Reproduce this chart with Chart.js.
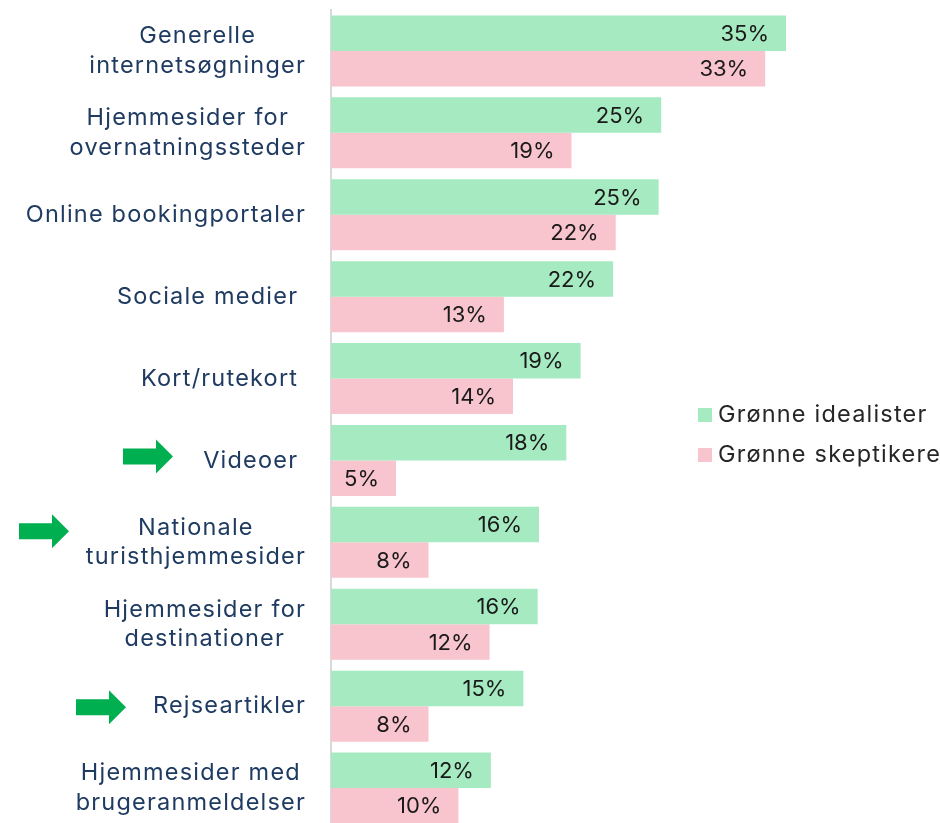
<!DOCTYPE html>
<html>
<head>
<meta charset="utf-8">
<script src="https://cdn.jsdelivr.net/npm/chart.js@4"></script>
<style>
  html, body { margin: 0; padding: 0; background: #fff; overflow: hidden; }
  #wrap { width: 940px; height: 829px; position: relative; }
</style>
</head>
<body>
<div id="wrap"><canvas id="sources_chart"></canvas></div>
<script>
// categories (multi-line ones as arrays, trailing spaces kept as in the source)
const categories = [
  ['Generelle', 'internetsøgninger'],
  ['Hjemmesider for', 'overnatningssteder'],
  'Online bookingportaler',
  'Sociale medier ',
  'Kort/rutekort ',
  'Videoer ',
  ['Nationale', 'turisthjemmesider'],
  ['Hjemmesider for', 'destinationer'],
  'Rejseartikler',
  ['Hjemmesider med', 'brugeranmeldelser']
];

const seriesNames = ['Grønne idealister', 'Grønne skeptikere'];

// percent
const idealister = [35.0, 25.4, 25.2, 21.7, 19.2, 18.1, 16.0, 15.9, 14.8, 12.3];
const skeptikere = [33.4, 18.5, 21.9, 13.3, 14.0, 5.0, 7.5, 12.2, 7.5, 9.8];

// categories marked with a green arrow
const highlighted = ['Videoer ', 'Nationale', 'Rejseartikler'];

const FONT = "'Inter', 'Noto Sans', sans-serif";
const LABEL_RIGHT = 306;
const LINE_H = 29.5;

//category labels: right aligned block, lines centered in it
const categoryLabels = {
  id: 'categoryLabels',
  afterDraw(chart) {
    const ctx = chart.ctx;
    const y = chart.scales.y;
    ctx.save();
    ctx.font = '23.5px ' + FONT;
    ctx.letterSpacing = '1.2px';
    ctx.fillStyle = '#1f3b61';
    ctx.textAlign = 'center';
    ctx.textBaseline = 'middle';
    chart.data.labels.forEach((lbl, i) => {
      const lines = Array.isArray(lbl) ? lbl : [lbl];
      const w = Math.max(...lines.map(l => ctx.measureText(l).width));
      const cx = LABEL_RIGHT - w / 2;
      const cy = y.getPixelForValue(i);
      lines.forEach((l, j) => {
        ctx.fillText(l, cx, cy + (j - (lines.length - 1) / 2) * LINE_H);
      });
    });
    ctx.restore();
  }
};

//green arrows in front of some categories
const arrows = {
  id: 'arrows',
  afterDraw(chart, args, opts) {
    const ctx = chart.ctx;
    const y = chart.scales.y;
    ctx.save();
    ctx.fillStyle = '#00b050';
    chart.data.labels.forEach((lbl, i) => {
      const first = Array.isArray(lbl) ? lbl[0] : lbl;
      const k = highlighted.indexOf(first);
      if (k < 0) return;
      const right = opts.right[k];
      const cy = y.getPixelForValue(i) + opts.dy[k];
      const left = right - 50;
      const head = right - 17;
      ctx.beginPath();
      ctx.moveTo(left, cy - 8);
      ctx.lineTo(head, cy - 8);
      ctx.lineTo(head, cy - 17);
      ctx.lineTo(right, cy);
      ctx.lineTo(head, cy + 17);
      ctx.lineTo(head, cy + 8);
      ctx.lineTo(left, cy + 8);
      ctx.closePath();
      ctx.fill();
    });
    ctx.restore();
  }
};

//value labels inside the bar ends
const valueLabels = {
  id: 'valueLabels',
  afterDatasetsDraw(chart) {
    const ctx = chart.ctx;
    ctx.save();
    ctx.font = '22px ' + FONT;
    ctx.fillStyle = '#1a1a1a';
    ctx.textAlign = 'right';
    ctx.textBaseline = 'middle';
    chart.data.datasets.forEach((ds, d) => {
      chart.getDatasetMeta(d).data.forEach((bar, i) => {
        ctx.fillText(Math.round(ds.data[i]) + '%', bar.x - 17, bar.y + 1);
      });
    });
    ctx.restore();
  }
};

//legend inside the plot, on the right
const sideLegend = {
  id: 'sideLegend',
  afterDraw(chart) {
    const ctx = chart.ctx;
    ctx.save();
    ctx.font = '23.5px ' + FONT;
    ctx.letterSpacing = '1.2px';
    ctx.textAlign = 'left';
    ctx.textBaseline = 'middle';
    chart.data.datasets.forEach((ds, d) => {
      const cy = 415 + d * 40;
      ctx.fillStyle = ds.backgroundColor;
      ctx.fillRect(698, cy - 7, 14, 14);
      ctx.fillStyle = '#262626';
      ctx.fillText(ds.label, 718, cy);
    });
    ctx.restore();
  }
};

new Chart(document.getElementById('sources_chart'), {
  type: 'bar',
  data: {
    labels: categories,
    datasets: [
      {
        label: seriesNames[0],
        data: idealister,
        backgroundColor: 'rgb(166, 234, 193)',
        categoryPercentage: 0.867,
        barPercentage: 1.0
      },
      {
        label: seriesNames[1],
        data: skeptikere,
        backgroundColor: 'rgb(248, 196, 205)',
        categoryPercentage: 0.867,
        barPercentage: 1.0
      }
    ]
  },
  options: {
    indexAxis: 'y',
    responsive: true,
    maintainAspectRatio: false,
    animation: false,
    layout: { padding: { top: 10, right: 24, bottom: 0, left: 0 } },
    scales: {
      x: { display: false, min: 0, max: 45 },
      y: {
        grid: { display: false },
        border: { display: true, color: '#d9d9d9', width: 2 },
        ticks: { display: false },
        afterFit(scale) { scale.width = 331; }
      }
    },
    plugins: {
      legend: { display: false },
      tooltip: { enabled: false },
      arrows: { right: [173, 69, 126], dy: [-4, -11, 1] }
    }
  },
  plugins: [categoryLabels, arrows, valueLabels, sideLegend]
});
</script>
</body>
</html>
